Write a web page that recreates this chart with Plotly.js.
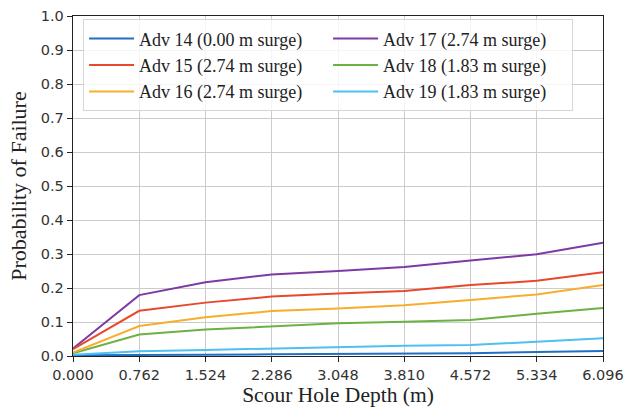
<!DOCTYPE html>
<html>
<head>
<meta charset="utf-8">
<script src="https://cdn.plot.ly/plotly-3.0.1.min.js"></script>
<style>html,body{margin:0;padding:0;background:#fff;}#chart{width:624px;height:412px;}</style>
</head>
<body>
<div id="chart"></div>
<script>
const depth = [0, 0.762, 1.524, 2.286, 3.048, 3.810, 4.572, 5.334, 6.096];
const tickLabels = ["0.000","0.762","1.524","2.286","3.048","3.810","4.572","5.334","6.096"];
const adv14 = [0.002, 0.004, 0.004, 0.005, 0.006, 0.007, 0.008, 0.012, 0.015];
const adv15 = [0.020, 0.133, 0.157, 0.175, 0.184, 0.191, 0.209, 0.221, 0.246];
const adv16 = [0.010, 0.088, 0.114, 0.132, 0.140, 0.149, 0.165, 0.181, 0.209];
const adv17 = [0.022, 0.179, 0.217, 0.240, 0.250, 0.262, 0.281, 0.299, 0.333];
const adv18 = [0.008, 0.063, 0.078, 0.087, 0.096, 0.101, 0.106, 0.124, 0.141];
const adv19 = [0.004, 0.014, 0.018, 0.022, 0.027, 0.030, 0.032, 0.042, 0.052];
const names = ["Adv 14 (0.00 m surge)","Adv 15 (2.74 m surge)","Adv 16 (2.74 m surge)",
               "Adv 17 (2.74 m surge)","Adv 18 (1.83 m surge)","Adv 19 (1.83 m surge)"];
const colors = ["#1f6fc4","#e8482c","#f7ae2e","#7e3aa4","#6cb143","#4fc0ef"];
const series = [adv14, adv15, adv16, adv17, adv18, adv19];
// legend is row-major in plotly; order to mimic column-major two-column legend
const order = [0, 3, 1, 4, 2, 5];
const traces = order.map(i => ({
  x: depth, y: series[i], name: names[i], type: 'scatter', mode: 'lines',
  line: {color: colors[i], width: 2}
}));
const serif = 'Liberation Serif, Times New Roman, serif';
const layout = {
  width: 624, height: 412,
  margin: {l: 73, r: 21, t: 16, b: 56},
  paper_bgcolor: '#fff', plot_bgcolor: '#fff',
  showlegend: true,
  legend: {
    orientation: 'h', x: 0.019, y: 0.99, xanchor: 'left', yanchor: 'top',
    entrywidth: 184, itemwidth: 45,
    bgcolor: 'rgba(255,255,255,0.8)', bordercolor: '#d6d6d6', borderwidth: 1,
    font: {family: serif, size: 18, color: '#222'}
  },
  xaxis: {
    range: [0, 6.096], tickmode: 'array', tickvals: depth, ticktext: tickLabels,
    showgrid: true, gridcolor: '#cccccc', gridwidth: 1,
    showline: true, linecolor: '#222', linewidth: 1.3, mirror: true,
    ticks: 'outside', ticklen: 5, tickcolor: '#222', zeroline: false,
    tickfont: {family: 'DejaVu Sans, sans-serif', size: 14.5, color: '#333'},
    title: {text: 'Scour Hole Depth (m)', standoff: 4,
            font: {family: serif, size: 21.5, color: '#222'}}
  },
  yaxis: {
    range: [0, 1], dtick: 0.1, tick0: 0, tickformat: '.1f',
    showgrid: true, gridcolor: '#cccccc', gridwidth: 1,
    showline: true, linecolor: '#222', linewidth: 1.3, mirror: true,
    ticks: 'outside', ticklen: 5, tickcolor: '#222', zeroline: false,
    tickfont: {family: 'DejaVu Sans, sans-serif', size: 14.5, color: '#333'},
    title: {text: 'Probability of Failure', standoff: 8,
            font: {family: serif, size: 22, color: '#222'}}
  }
};
Plotly.newPlot('chart', traces, layout, {displayModeBar: false, staticPlot: true});
</script>
</body>
</html>
